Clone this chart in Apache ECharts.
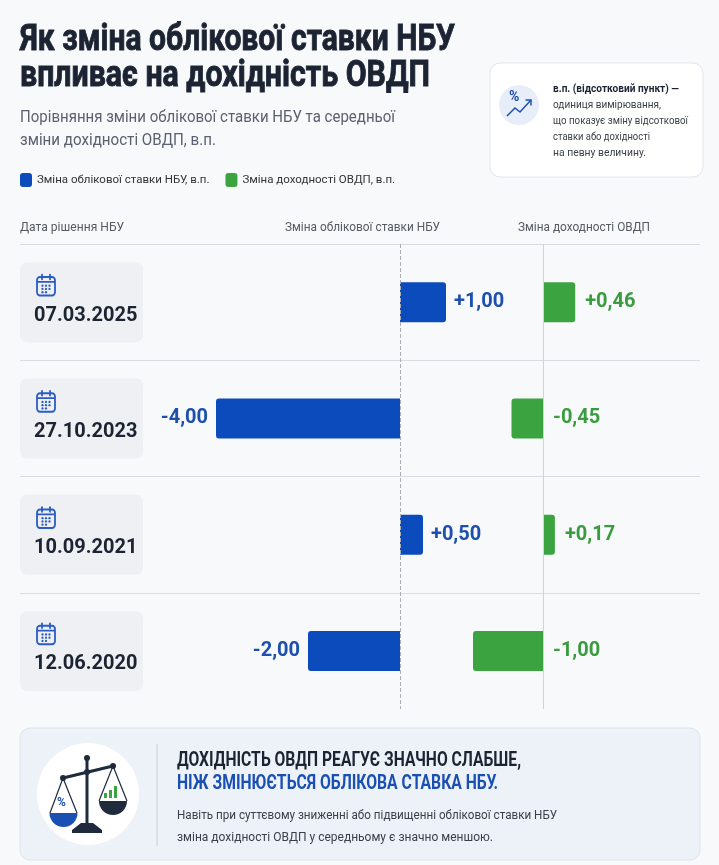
<!DOCTYPE html>
<html lang="uk">
<head>
<meta charset="UTF-8">
<title>Облікова ставка НБУ та ОВДП</title>
<script src="https://cdn.jsdelivr.net/npm/echarts@6/dist/echarts.min.js"></script>
<style>
  html, body { margin: 0; padding: 0; background: #f8f9fb; }
  #main { width: 719px; height: 865px; }
</style>
</head>
<body>
<div id="main"></div>
<script>
// дані
var dates = ['07.03.2025', '27.10.2023', '10.09.2021', '12.06.2020'];
var rateChange = [1.00, -4.00, 0.50, -2.00];   // зміна облікової ставки НБУ, в.п.
var yieldChange = [0.46, -0.45, 0.17, -1.00];  // зміна доходності ОВДП, в.п.
var seriesNames = ['Зміна облікової ставки НБУ, в.п.', 'Зміна доходності ОВДП, в.п.'];

var FONT = "Roboto, 'Liberation Sans', sans-serif";
var BLUE = '#0b4bbb';
var GREEN = '#3ba340';
var DARK = '#1c2433';

var calSvg = "<svg xmlns='http://www.w3.org/2000/svg' viewBox='0 0 24 24'>" +
    "<rect x='3' y='4.5' width='18' height='17' rx='3' fill='none' stroke='#2a5cc4' stroke-width='1.8'/>" +
    "<line x1='3' y1='9' x2='21' y2='9' stroke='#2a5cc4' stroke-width='1.6'/>" +
    "<line x1='8' y1='2.5' x2='8' y2='6.5' stroke='#2a5cc4' stroke-width='1.8' stroke-linecap='round'/>" +
    "<line x1='16' y1='2.5' x2='16' y2='6.5' stroke='#2a5cc4' stroke-width='1.8' stroke-linecap='round'/>" +
    "<g fill='#2a5cc4'><circle cx='8.5' cy='12.5' r='1.1'/><circle cx='12' cy='12.5' r='1.1'/><circle cx='15.5' cy='12.5' r='1.1'/>" +
    "<circle cx='8.5' cy='15.5' r='1.1'/><circle cx='12' cy='15.5' r='1.1'/><circle cx='15.5' cy='15.5' r='1.1'/>" +
    "<circle cx='8.5' cy='18.5' r='1.1'/><circle cx='12' cy='18.5' r='1.1'/></g></svg>";
var calIcon = 'data:image/svg+xml;charset=utf-8,' + encodeURIComponent(calSvg);

function fmt(v) {
    return (v > 0 ? '+' : '') + v.toFixed(2).replace('.', ',');
}

function barData(arr, negLeft) {
    return arr.map(function(v) {
        return {
            value: v,
            label: { position: (v < 0 && negLeft) ? 'left' : 'right' },
            itemStyle: { borderRadius: v < 0 ? [3, 0, 0, 3] : [0, 3, 3, 0] }
        };
    });
}

// вузький шрифт недоступний, тому стискаємо текст по ширині
var ctx = document.createElement('canvas').getContext('2d');
function txt(x, y, text, size, color, weight, w, stroke) {
    weight = weight || 'normal';
    var sx = 1;
    if (w) {
        ctx.font = weight + ' ' + size + 'px Roboto';
        sx = w / ctx.measureText(text).width;
    }
    var st = { text: text, x: 0, y: 0, fontSize: size, fill: color, fontFamily: FONT,
               fontWeight: weight, verticalAlign: 'middle' };
    if (stroke) { st.stroke = color; st.lineWidth = stroke; }
    return { type: 'text', silent: true, z: 10, x: x, y: y, scaleX: sx, style: st };
}

var myChart = echarts.init(document.getElementById('main'));

myChart.setOption({
    backgroundColor: '#f8f9fb',
    animation: false,
    legend: {
        left: 20,
        top: 173,
        padding: 0,
        itemWidth: 12,
        itemHeight: 14,
        itemGap: 16,
        icon: 'roundRect',
        selectedMode: false,
        textStyle: { fontFamily: FONT, fontSize: 11.5, color: '#333' },
        data: seriesNames
    },
    grid: [
        { left: 20, right: 19, top: 244, height: 465 },  // рядки
        { left: 216, width: 276, top: 244, height: 465 }, // НБУ
        { left: 473, width: 140, top: 244, height: 465 }  // ОВДП
    ],
    xAxis: [
        { type: 'value', gridIndex: 0, show: false, min: 0, max: 1 },
        { type: 'value', gridIndex: 1, show: false, min: -4, max: 2 },
        { type: 'value', gridIndex: 2, show: false, min: -1, max: 1 }
    ],
    yAxis: [{
        type: 'category',
        gridIndex: 0,
        data: dates,
        inverse: true,
        axisLine: { show: false },
        axisTick: { show: false },
        splitLine: {
            show: true,
            showMaxLine: false,
            lineStyle: { color: '#d9dce2', width: 1 }
        },
        axisLabel: {
            align: 'left',
            margin: 0,
            backgroundColor: '#eef0f3',
            borderRadius: 7,
            padding: [10, 14, 9, 14],
            width: 95,
            formatter: function(v) { return '{icon|}\n{d|' + v + '}'; },
            rich: {
                icon: { backgroundColor: { image: calIcon }, width: 24, height: 26 },
                d: { fontFamily: FONT, fontSize: 20, fontWeight: 'bold', color: DARK, lineHeight: 35 }
            }
        }
    }, {
        type: 'category', gridIndex: 1, data: dates, inverse: true, show: false
    }, {
        type: 'category', gridIndex: 2, data: dates, inverse: true, show: false
    }],
    series: [{
        name: seriesNames[0],
        type: 'bar',
        xAxisIndex: 1,
        yAxisIndex: 1,
        barWidth: 40,
        color: BLUE,
        data: barData(rateChange, true),
        label: {
            show: true,
            distance: 8,
            formatter: function(p) { return fmt(p.value); },
            fontFamily: FONT, fontSize: 20, fontWeight: 'bold', color: '#1d4fae'
        },
        markLine: {
            silent: true,
            symbol: 'none',
            label: { show: false },
            lineStyle: { type: 'dashed', color: '#a9aeb6', width: 1 },
            data: [{ xAxis: 0 }]
        }
    }, {
        name: seriesNames[1],
        type: 'bar',
        xAxisIndex: 2,
        yAxisIndex: 2,
        barWidth: 40,
        color: GREEN,
        data: barData(yieldChange, false),
        label: {
            show: true,
            distance: 10,
            formatter: function(p) { return fmt(p.value); },
            fontFamily: FONT, fontSize: 20, fontWeight: 'bold', color: '#3a9b3f'
        },
        markLine: {
            silent: true,
            symbol: 'none',
            label: { show: false },
            lineStyle: { type: 'solid', color: '#d0d3d9', width: 1 },
            data: [{ xAxis: 0 }]
        }
    }],
    graphic: [
        // заголовок
        txt(20, 41, 'Як зміна облікової ставки НБУ', 36, DARK, 'bold', 435, 0.9),
        txt(20, 77, 'впливає на дохідність ОВДП', 36, DARK, 'bold', 410, 0.9),
        txt(20, 118, 'Порівняння зміни облікової ставки НБУ та середньої', 16.5, '#5b6170', 'normal', 375),
        txt(20, 141, 'зміни дохідності ОВДП, в.п.', 16.5, '#5b6170', 'normal', 196),
        // шапка таблиці
        txt(20, 228, 'Дата рішення НБУ', 13, '#555a63', 'normal', 104),
        txt(285, 228, 'Зміна облікової ставки НБУ', 13, '#555a63', 'normal', 155),
        txt(518, 228, 'Зміна доходності ОВДП', 13, '#555a63', 'normal', 132),
        // пояснення в.п.
        {
            type: 'rect', silent: true,
            shape: { x: 490, y: 63, width: 213, height: 114, r: 10 },
            style: { fill: '#ffffff', stroke: '#e2e5ea', lineWidth: 1 }
        },
        { type: 'circle', silent: true, shape: { cx: 519, cy: 105, r: 20 }, style: { fill: '#e8eef9' } },
        txt(509, 97, '%', 14, '#1d4fae', 'bold'),
        {
            type: 'polyline', silent: true,
            shape: { points: [[507, 116], [515, 108], [520, 112], [531, 100]] },
            style: { stroke: '#1d4fae', lineWidth: 1.5, fill: null }
        },
        {
            type: 'polyline', silent: true,
            shape: { points: [[525.5, 100], [531, 100], [531, 105.5]] },
            style: { stroke: '#1d4fae', lineWidth: 1.5, fill: null }
        },
        txt(553, 89, 'в.п. (відсотковий пункт) —', 11.5, DARK, 'bold', 126),
        txt(553, 105, 'одиниця вимірювання,', 11.5, '#3a3f48', 'normal', 108),
        txt(553, 121, 'що показує зміну відсоткової', 11.5, '#3a3f48', 'normal', 135),
        txt(553, 137, 'ставки або дохідності', 11.5, '#3a3f48', 'normal', 97),
        txt(553, 153, 'на певну величину.', 11.5, '#3a3f48', 'normal', 93),
        // нижній блок
        {
            type: 'rect', silent: true,
            shape: { x: 20, y: 728, width: 680, height: 132, r: 10 },
            style: { fill: '#edf1f8', stroke: '#dfe4ec', lineWidth: 1 }
        },
        { type: 'circle', silent: true, shape: { cx: 88, cy: 794, r: 51 }, style: { fill: '#ffffff' } },
        // терези
        { type: 'line', silent: true, shape: { x1: 87, y1: 759, x2: 87, y2: 826 }, style: { stroke: '#1f2a3d', lineWidth: 3 } },
        { type: 'line', silent: true, shape: { x1: 63, y1: 778, x2: 113, y2: 766 }, style: { stroke: '#1f2a3d', lineWidth: 3 } },
        { type: 'circle', silent: true, shape: { cx: 87, cy: 758, r: 3 }, style: { fill: '#1f2a3d' } },
        { type: 'circle', silent: true, shape: { cx: 87, cy: 772, r: 3 }, style: { fill: '#1f2a3d' } },
        { type: 'circle', silent: true, shape: { cx: 63, cy: 778, r: 3 }, style: { fill: '#1f2a3d' } },
        { type: 'circle', silent: true, shape: { cx: 113, cy: 766, r: 3 }, style: { fill: '#1f2a3d' } },
        {
            type: 'polygon', silent: true,
            shape: { points: [[81, 823], [93, 823], [102, 830], [102, 833], [72, 833], [72, 830]] },
            style: { fill: '#1f2a3d' }
        },
        { type: 'line', silent: true, shape: { x1: 63, y1: 778, x2: 50, y2: 813 }, style: { stroke: '#1f2a3d', lineWidth: 1.2 } },
        { type: 'line', silent: true, shape: { x1: 63, y1: 778, x2: 77, y2: 813 }, style: { stroke: '#1f2a3d', lineWidth: 1.2 } },
        { type: 'sector', silent: true, shape: { cx: 63.5, cy: 813, r0: 0, r: 14, startAngle: 0, endAngle: Math.PI }, style: { fill: '#1a4fb3' } },
        txt(57, 803, '%', 12, '#1a4fb3', 'bold'),
        { type: 'line', silent: true, shape: { x1: 113, y1: 766, x2: 99, y2: 801 }, style: { stroke: '#1f2a3d', lineWidth: 1.2 } },
        { type: 'line', silent: true, shape: { x1: 113, y1: 766, x2: 127, y2: 801 }, style: { stroke: '#1f2a3d', lineWidth: 1.2 } },
        { type: 'sector', silent: true, shape: { cx: 113, cy: 801, r0: 0, r: 14, startAngle: 0, endAngle: Math.PI }, style: { fill: '#1f2a3d' } },
        { type: 'rect', silent: true, shape: { x: 104, y: 793, width: 3, height: 5 }, style: { fill: GREEN } },
        { type: 'rect', silent: true, shape: { x: 109, y: 790, width: 3, height: 8 }, style: { fill: GREEN } },
        { type: 'rect', silent: true, shape: { x: 114, y: 786, width: 3, height: 12 }, style: { fill: GREEN } },
        { type: 'line', silent: true, shape: { x1: 157, y1: 744, x2: 157, y2: 846 }, style: { stroke: '#c9ced6', lineWidth: 1 } },
        txt(177, 761, 'ДОХІДНІСТЬ ОВДП РЕАГУЄ ЗНАЧНО СЛАБШЕ,', 20, DARK, 'bold', 344),
        txt(177, 784, 'НІЖ ЗМІНЮЄТЬСЯ ОБЛІКОВА СТАВКА НБУ.', 20, '#1a4fb3', 'bold', 321),
        txt(177, 816, 'Навіть при суттєвому зниженні або підвищенні облікової ставки НБУ', 13.5, '#3a3f48', 'normal', 380),
        txt(177, 838, 'зміна дохідності ОВДП у середньому є значно меншою.', 13.5, '#3a3f48', 'normal', 316)
    ]
});
</script>
</body>
</html>
